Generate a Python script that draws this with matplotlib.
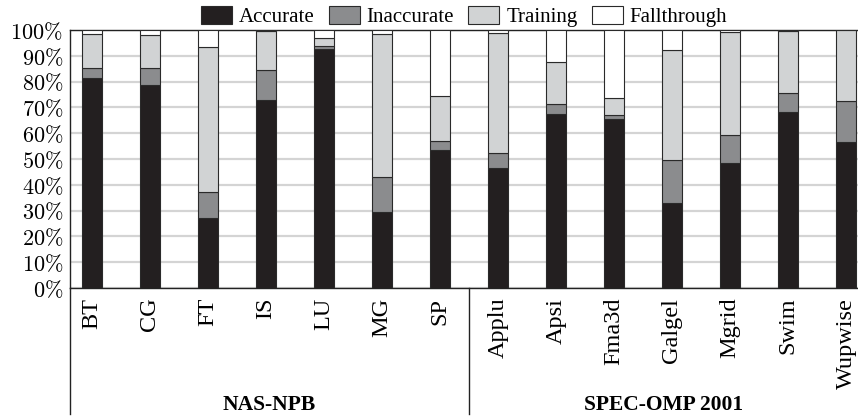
import matplotlib
matplotlib.use("Agg")
import matplotlib.pyplot as plt
import matplotlib.transforms as mtransforms
import numpy as np

benchmarks = ["BT", "CG", "FT", "IS", "LU", "MG", "SP",
              "Applu", "Apsi", "Fma3d", "Galgel", "Mgrid", "Swim", "Wupwise"]
accurate    = [81.5, 78.7, 27.0, 72.9, 92.8, 29.6, 53.5, 46.4, 67.4, 65.4, 33.1, 48.4, 68.2, 56.7]
inaccurate  = [3.6, 6.7, 10.1, 11.5, 0.9, 13.3, 3.6, 6.1, 4.0, 1.7, 16.4, 10.8, 7.4, 15.8]
training    = [13.2, 12.5, 56.2, 15.2, 3.1, 55.4, 17.2, 46.5, 16.1, 6.4, 42.9, 39.9, 23.9, 27.5]
fallthrough = [1.7, 2.1, 6.7, 0.4, 3.2, 1.7, 25.7, 1.0, 12.5, 26.5, 7.6, 0.9, 0.5, 0.0]
series_names = ["Accurate", "Inaccurate", "Training", "Fallthrough"]
groups = ["NAS-NPB", "SPEC-OMP 2001"]
group_sizes = [7, 7]
yticks = [0, 10, 20, 30, 40, 50, 60, 70, 80, 90, 100]

colors = ["#231f20", "#8b8c8e", "#d1d3d4", "#ffffff"]

plt.rcParams["mathtext.fontset"] = "cm"
serif = ["Liberation Serif", "DejaVu Serif"]

fig = plt.figure(figsize=(8.58, 4.19), dpi=100)
ax = fig.add_axes([70 / 858, (419 - 288) / 419, (858 - 70) / 858, 258 / 419])

x = np.arange(len(benchmarks))
bottom = np.zeros(len(benchmarks))
handles = []
for vals, c, name in zip([accurate, inaccurate, training, fallthrough], colors, series_names):
    vals = np.array(vals)
    h = ax.bar(x, vals, width=0.345, bottom=bottom, color=c, edgecolor="#2a2a2a",
               linewidth=0.8, label=name, zorder=3)
    handles.append(h)
    bottom += vals

ax.set_ylim(0, 100)
ax.set_xlim(-0.379, 13.207)
ax.set_yticks(yticks)
ax.set_yticklabels([r"$%d\%%$" % v for v in yticks], fontsize=16)
ax.yaxis.grid(True, color="#d4d4d4", linewidth=1.6, zorder=0)
ax.set_axisbelow(True)
ax.tick_params(axis="y", length=0, pad=5)
ax.set_xticks(x)
ax.set_xticklabels(benchmarks, rotation=90, fontsize=17.5, family=serif, va="top", ha="center")
ax.tick_params(axis="x", length=0, pad=7)

for s in ["left", "bottom", "top"]:
    ax.spines[s].set_linewidth(1.0)
    ax.spines[s].set_color("#222222")
ax.spines["right"].set_visible(False)

# group dividers and labels
trans = mtransforms.blended_transform_factory(ax.transData, ax.transAxes)
start = 0
divs = [-0.379]
for gname, gs in zip(groups, group_sizes):
    end = start + gs
    center = (max(start - 0.5, -0.379) + min(end - 0.5, 13.207)) / 2
    ax.text(center, -0.453, gname, transform=trans, ha="center", va="center",
            fontsize=15.5, fontweight="bold", family=serif)
    if end < len(benchmarks):
        divs.append(end - 0.5)
    start = end
for d in divs:
    ax.plot([d, d], [0, -0.487], transform=trans, color="#222222", linewidth=1.0,
            clip_on=False)

leg = ax.legend(handles=handles, loc="lower center", bbox_to_anchor=(0.5, 1.0),
                ncol=4, frameon=False, prop={"family": serif, "size": 15},
                handlelength=1.5, handleheight=0.96, handletextpad=0.33,
                columnspacing=0.67, borderaxespad=0.1, borderpad=0.05)

fig.savefig("out.png", dpi=100)
